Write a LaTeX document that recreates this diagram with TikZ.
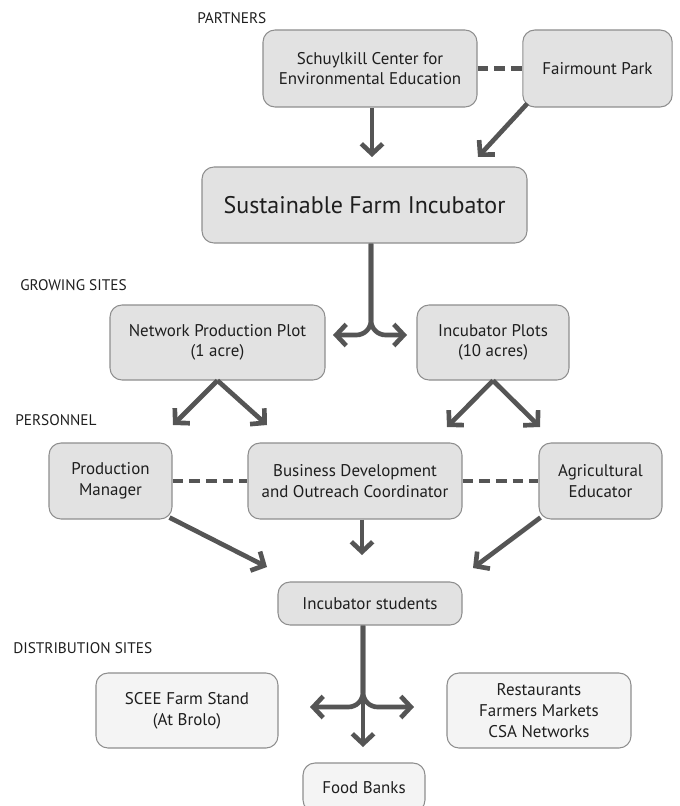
\documentclass[tikz,border=0pt]{standalone}
\usepackage{fontspec}
\setmainfont{PT Sans}
\usetikzlibrary{arrows.meta}
\definecolor{boxfill}{HTML}{E2E2E2}
\definecolor{boxline}{HTML}{8E8E8E}
\definecolor{distfill}{HTML}{F4F4F4}
\definecolor{arrowc}{HTML}{555555}
\definecolor{txt}{HTML}{1E1E1E}
\begin{document}
\begin{tikzpicture}[x=0.75pt,y=-0.75pt,
 box/.style={draw=boxline, fill=boxfill, rounded corners=9pt, line width=0.8pt, align=center, text=txt, font=\fontsize{12.7}{15.5}\selectfont, inner sep=0pt},
 dist/.style={box, fill=distfill},
 arr/.style={draw=arrowc, line width=3.5pt, -{Straight Barb[length=7.5pt,width=16pt]}},
 dashline/.style={draw=arrowc, line width=3.5pt, dash pattern=on 8pt off 4.5pt},
 sect/.style={anchor=west, font=\fontsize{11.5}{13}\selectfont, text=txt, inner sep=0pt}
]
\useasboundingbox (0,0) rectangle (680,806);

% section labels
\node[sect] (lp) at (197,18) {PARTNERS};
\node[sect] (lg) at (20,285) {GROWING SITES};
\node[sect] (lpe) at (15,420) {PERSONNEL};
\node[sect] (ld) at (13,648) {DISTRIBUTION SITES};

% boxes
\node[box, minimum width=160.5pt, minimum height=57.75pt] (sce) at (370,68.5) {Schuylkill Center for\\Environmental Education};
\node[box, minimum width=112pt, minimum height=57.75pt] (fp) at (597.5,68.5) {Fairmount Park};
\node[box, minimum width=243.75pt, minimum height=57pt, font=\fontsize{18}{22}\selectfont] (sfi) at (364.5,205) {Sustainable Farm Incubator};
\node[box, minimum width=161.25pt, minimum height=56.25pt] (npp) at (217.5,342.5) {Network Production Plot\\(1 acre)};
\node[box, minimum width=114pt, minimum height=56.25pt] (ip) at (493,342.5) {Incubator Plots\\(10 acres)};
\node[box, minimum width=92.25pt, minimum height=57pt] (pm) at (110.5,481) {Production\\Manager};
\node[box, minimum width=160.5pt, minimum height=57pt] (bdoc) at (355,481) {Business Development\\and Outreach Coordinator};
\node[box, minimum width=92.25pt, minimum height=57pt] (ae) at (600.5,481) {Agricultural\\Educator};
\node[box, minimum width=138pt, minimum height=32.25pt] (is) at (370,603.5) {Incubator students};
\node[dist, minimum width=136.5pt, minimum height=56.25pt] (scee) at (187,710.5) {SCEE Farm Stand\\(At Brolo)};
\node[dist, minimum width=138pt, minimum height=56.25pt] (rest) at (539,710.5) {Restaurants\\Farmers Markets\\CSA Networks};
\node[dist, minimum width=91.5pt, minimum height=36.75pt] (fb) at (364,787.5) {Food Banks};

% coordinates for free arrow ends
\coordinate (t5) at (372,157);
\coordinate (t6) at (478,157);
\coordinate (fx) at (371,335);
\coordinate (fl) at (333,335);
\coordinate (fr) at (407,335);
\coordinate (t1) at (173,425);
\coordinate (t2) at (267,425);
\coordinate (t3) at (447,427);
\coordinate (t4) at (540,427);
\coordinate (t7) at (267,567);
\coordinate (tB) at (362,555);
\coordinate (t8) at (473,568);
\coordinate (bx) at (363,747);
\coordinate (bl) at (310,707);
\coordinate (br) at (414,707);

% dashed links
\draw[dashline] (sce.east) -- (fp.west);
\draw[dashline] (pm.east) -- (bdoc.west);
\draw[dashline] (bdoc.east) -- (ae.west);

% arrows
\draw[arr] (sce.south -| t5) -- (t5);
\draw[arr] ([shift={(5,-4)}]fp.south west) -- (t6);
\draw[arr, rounded corners=11pt] (sfi.south -| fx) |- (fl);
\draw[arr, rounded corners=11pt] (sfi.south -| fx) |- (fr);
\draw[arr] (npp.south) -- (t1);
\draw[arr] (npp.south) -- (t2);
\draw[arr] (ip.south) -- (t3);
\draw[arr] (ip.south) -- (t4);
\draw[arr] ([shift={(-3,-2)}]pm.south east) -- (t7);
\draw[arr] (bdoc.south -| tB) -- (tB);
\draw[arr] ([shift={(2,-2)}]ae.south west) -- (t8);
\draw[arr] (is.south -| bx) -- (bx);
\draw[arr, rounded corners=11pt] (is.south -| bx) |- (bl);
\draw[arr, rounded corners=11pt] (is.south -| bx) |- (br);
\end{tikzpicture}
\end{document}
